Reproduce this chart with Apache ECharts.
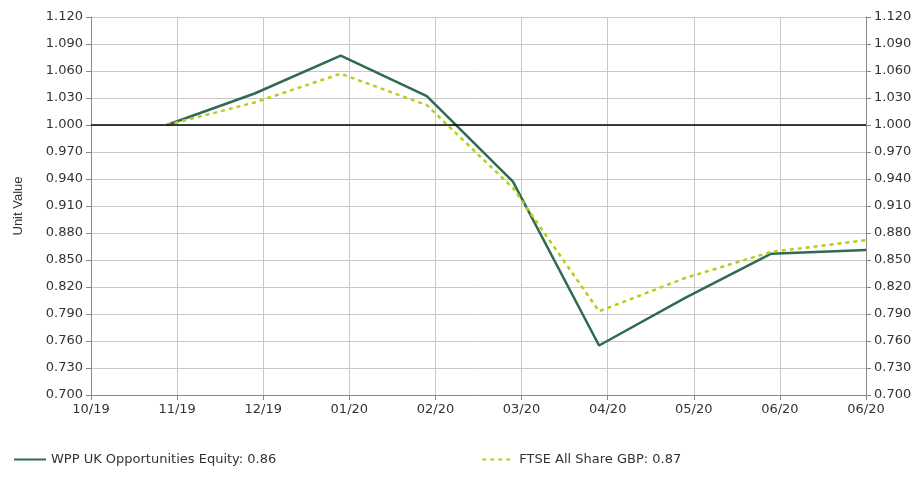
<!DOCTYPE html>
<html><head><meta charset="utf-8">
<script src="https://cdn.jsdelivr.net/npm/echarts@6/dist/echarts.min.js"></script>
<style>html,body{margin:0;padding:0;background:#fff}#c{width:917px;height:499px}</style>
</head><body><div id="c"></div>
<script>
var tickLabels = ['10/19','11/19','12/19','01/20','02/20','03/20','04/20','05/20','06/20','06/20'];
var xPos = [0.88, 1.9, 2.9, 3.9, 4.9, 5.9, 6.9, 7.9, 9];
var wppValues = [1.000, 1.035, 1.077, 1.032, 0.937, 0.755, 0.808, 0.857, 0.861];
var ftseValues = [1.000, 1.025, 1.057, 1.022, 0.930, 0.793, 0.830, 0.859, 0.872];

function pairs(v){ return v.map(function(y,i){ return [xPos[i], y]; }); }

var chart = echarts.init(document.getElementById('c'));
var yAxisBase = {
  type:'value', min:0.7, max:1.12, interval:0.03,
  axisLabel:{formatter:function(v){return v.toFixed(3);}, color:'#333', fontSize:13, fontFamily:'DejaVu Sans'},
  splitLine:{lineStyle:{color:'#c8c8c8'}},
  axisLine:{show:true, lineStyle:{color:'#888'}},
  axisTick:{show:true, lineStyle:{color:'#888'}}
};
chart.setOption({
  animation:false,
  grid:{left:91, right:51, top:17, bottom:104},
  xAxis:{type:'value', min:0, max:9, interval:1,
    axisLabel:{formatter:function(v){return tickLabels[v];}, color:'#333', fontSize:13, fontFamily:'DejaVu Sans'},
    splitLine:{show:true, lineStyle:{color:'#c8c8c8'}},
    axisLine:{lineStyle:{color:'#888'}}, axisTick:{show:true}},
  yAxis:[
    Object.assign({}, yAxisBase, {name:'Unit Value', nameLocation:'middle', nameGap:66, nameTextStyle:{color:'#333', fontSize:13}}),
    Object.assign({}, yAxisBase, {position:'right', splitLine:{show:false}})
  ],
  legend:{bottom:28, left:8, itemGap:205, itemWidth:32, itemStyle:{opacity:0},
    textStyle:{color:'#333', fontSize:13, fontFamily:'DejaVu Sans'},
    data:[{name:'WPP UK Opportunities Equity: 0.86'},{name:'FTSE All Share GBP: 0.87'}]},
  series:[
    {name:'WPP UK Opportunities Equity: 0.86', type:'line', data:pairs(wppValues), showSymbol:false, symbol:'none',
     lineStyle:{color:'#2e6b50', width:2.5}, itemStyle:{color:'#2e6b50'},
     markLine:{silent:true, symbol:'none', label:{show:false}, lineStyle:{color:'#000', type:'solid', width:1.5}, data:[{yAxis:1.0}]}},
    {name:'FTSE All Share GBP: 0.87', type:'line', data:pairs(ftseValues), showSymbol:false, symbol:'none',
     lineStyle:{color:'#b8cc1a', width:2.5, type:[4,4]}, itemStyle:{color:'#b8cc1a'}}
  ]
});
</script></body></html>
